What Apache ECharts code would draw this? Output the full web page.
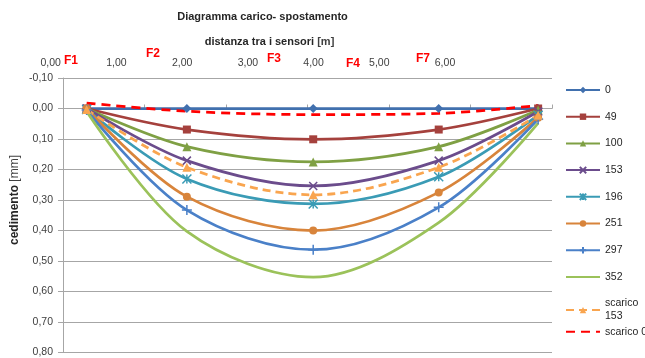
<!DOCTYPE html>
<html>
<head>
<meta charset="utf-8">
<script src="https://cdn.jsdelivr.net/npm/echarts@6/dist/echarts.min.js"></script>
<style>
html,body{margin:0;padding:0;background:#fff;}
#chart{width:645px;height:358px;}
</style>
</head>
<body>
<div id="chart"></div>
<script>
// ---- data ----
var sensorX = [0.29, 1.52, 3.07, 4.61, 5.83];
var topLabels = ['0,00', '1,00', '2,00', '3,00', '4,00', '5,00', '6,00'];
var sensorNames = ['F1', 'F2', 'F3', 'F4', 'F7'];
var seriesNames = ['0', '49', '100', '153', '196', '251', '297', '352', 'scarico 153', 'scarico 0'];
var s0    = [0, 0, 0, 0, 0];
var s49   = [0, 0.069, 0.101, 0.069, 0];
var s100  = [0, 0.125, 0.175, 0.125, 0.005];
var s153  = [0, 0.171, 0.254, 0.171, 0.010];
var s196  = [0.003, 0.231, 0.313, 0.224, 0.022];
var s251  = [0, 0.289, 0.400, 0.275, 0.030];
var s297  = [0.005, 0.333, 0.463, 0.324, 0.035];
var s352  = [0.010, 0.403, 0.553, 0.374, 0.048];
var sc153 = [0.003, 0.193, 0.283, 0.193, 0.022];
var sc0   = [-0.018, 0.009, 0.020, 0.016, -0.010];

var FONT = '"Liberation Sans", Arial, sans-serif';

function pts(arr) { return arr.map(function (v, i) { return [sensorX[i], v]; }); }

var styles = [
  {data: s0,    color: '#4170AE', symbol: 'diamond', size: 9},
  {data: s49,   color: '#A5413D', symbol: 'rect', size: 8},
  {data: s100,  color: '#7FA044', symbol: 'triangle', size: 9},
  {data: s153,  color: '#6B4C8C', symbol: 'path://M0,0L10,10M10,0L0,10', size: 8, stroke: true},
  {data: s196,  color: '#3A9BB5', symbol: 'path://M0,0L10,10M10,0L0,10M5,0L5,10', size: 9, stroke: true},
  {data: s251,  color: '#D8843B', symbol: 'circle', size: 8},
  {data: s297,  color: '#4A80C8', symbol: 'path://M5,0L5,10M0,5L10,5', size: 10, stroke: true},
  {data: s352,  color: '#9BC25A', symbol: 'none', size: 0},
  {data: sc153, color: '#F9A54F', symbol: 'triangle', size: 9, dash: [8, 5]},
  {data: sc0,   color: '#FF0000', symbol: 'none', size: 0, dash: [9, 6]}
];

var series = styles.map(function (s, i) {
  return {
    name: seriesNames[i],
    type: 'line',
    xAxisIndex: 0,
    yAxisIndex: 0,
    data: pts(s.data),
    smooth: 0.33,
    symbol: s.symbol,
    symbolSize: s.size,
    showSymbol: s.symbol !== 'none',
    color: s.color,
    itemStyle: s.stroke ? {color: s.color, borderColor: s.color, borderWidth: 1.5} : {color: s.color},
    lineStyle: {width: 2.75, color: s.color, type: s.dash ? s.dash : 'solid', cap: 'butt'},
    emphasis: {disabled: true},
    animation: false
  };
});

function legendItems(names) {
  return names.map(function (n) {
    var st = styles[seriesNames.indexOf(n)];
    var o = {name: n};
    if (st.symbol === 'none') { o.itemStyle = {opacity: 0}; }
    return o;
  });
}

var legendText = {fontFamily: FONT, fontSize: 10.5, color: '#262626', lineHeight: 13};

var chart = echarts.init(document.getElementById('chart'), null, {renderer: 'canvas'});
chart.setOption({
  backgroundColor: '#ffffff',
  animation: false,
  textStyle: {fontFamily: FONT},
  title: [
    {
      text: 'Diagramma carico- spostamento',
      left: 262.5, top: 11.5, padding: 0, textAlign: 'center',
      textStyle: {fontFamily: FONT, fontSize: 11, fontWeight: 'bold', color: '#262626'}
    },
    {
      text: '{b|distanza tra i sensori} {n|[m]}',
      left: 269.5, top: 36.5, padding: 0, textAlign: 'center',
      textStyle: {
        fontFamily: FONT, fontSize: 11, color: '#262626',
        rich: {
          b: {fontFamily: FONT, fontSize: 11, fontWeight: 'bold', color: '#262626'},
          n: {fontFamily: FONT, fontSize: 11, color: '#404040'}
        }
      }
    }
  ],
  legend: [
    {
      data: legendItems(seriesNames.slice(0, 9)),
      orient: 'vertical',
      left: 565, top: 83.5, padding: 0,
      itemWidth: 34, itemHeight: 8, itemGap: 13.7, itemTextGap: 1,
      formatter: function (n) { return n === 'scarico 153' ? 'scarico\n153' : n; },
      textStyle: legendText
    },
    {
      data: legendItems([seriesNames[9]]),
      orient: 'vertical',
      left: 565, top: 325.2, padding: 0,
      itemWidth: 34, itemHeight: 8, itemTextGap: 1,
      textStyle: legendText
    }
  ],
  grid: [
    {left: 63, right: 93, top: 78, bottom: 4.5, containLabel: false},
    {left: 50.7, right: 200, top: 72, height: 10, containLabel: false}
  ],
  xAxis: [
    {
      type: 'value', gridIndex: 0, min: 0, max: 6, interval: 1, position: 'bottom',
      axisLine: {show: true, onZero: true, lineStyle: {color: '#A6A6A6', width: 1}},
      axisTick: {show: true, inside: true, length: 4, lineStyle: {color: '#A6A6A6'}},
      axisLabel: {show: false},
      splitLine: {show: false}
    },
    {
      type: 'category', gridIndex: 1, data: topLabels, boundaryGap: false, position: 'top',
      axisLine: {show: false}, axisTick: {show: false}, splitLine: {show: false},
      axisLabel: {show: true, margin: 3, fontFamily: FONT, fontSize: 10.5, color: '#404040', interval: 0}
    }
  ],
  yAxis: [
    {
      type: 'value', gridIndex: 0, inverse: true, min: -0.1, max: 0.8, interval: 0.1,
      axisLine: {show: true, onZero: false, lineStyle: {color: '#A6A6A6', width: 1}},
      axisTick: {show: true, inside: false, length: 5, lineStyle: {color: '#A6A6A6'}},
      axisLabel: {
        margin: 10, fontFamily: FONT, fontSize: 10.5, color: '#404040',
        formatter: function (v) { return (Math.round(v * 100) / 100).toFixed(2).replace('.', ','); }
      },
      splitLine: {show: true, lineStyle: {color: '#A6A6A6', width: 1.2}}
    },
    {type: 'value', gridIndex: 1, show: false}
  ],
  graphic: [
    {
      type: 'text', x: 15, y: 200, rotation: Math.PI / 2,
      style: {
        text: '{b|cedimento} {n|[mm]}', align: 'center', verticalAlign: 'middle',
        rich: {
          b: {fontFamily: FONT, fontSize: 12, fontWeight: 'bold', fill: '#262626'},
          n: {fontFamily: FONT, fontSize: 12, fill: '#404040'}
        }
      }
    },
    {type: 'text', x: 71, y: 60.7, style: {text: sensorNames[0], align: 'center', verticalAlign: 'middle', fill: '#FF0000', font: 'bold 12px ' + FONT}},
    {type: 'text', x: 153, y: 53.3, style: {text: sensorNames[1], align: 'center', verticalAlign: 'middle', fill: '#FF0000', font: 'bold 12px ' + FONT}},
    {type: 'text', x: 274, y: 59, style: {text: sensorNames[2], align: 'center', verticalAlign: 'middle', fill: '#FF0000', font: 'bold 12px ' + FONT}},
    {type: 'text', x: 353, y: 63.3, style: {text: sensorNames[3], align: 'center', verticalAlign: 'middle', fill: '#FF0000', font: 'bold 12px ' + FONT}},
    {type: 'text', x: 423, y: 58.3, style: {text: sensorNames[4], align: 'center', verticalAlign: 'middle', fill: '#FF0000', font: 'bold 12px ' + FONT}}
  ],
  series: series
});
</script>
</body>
</html>
